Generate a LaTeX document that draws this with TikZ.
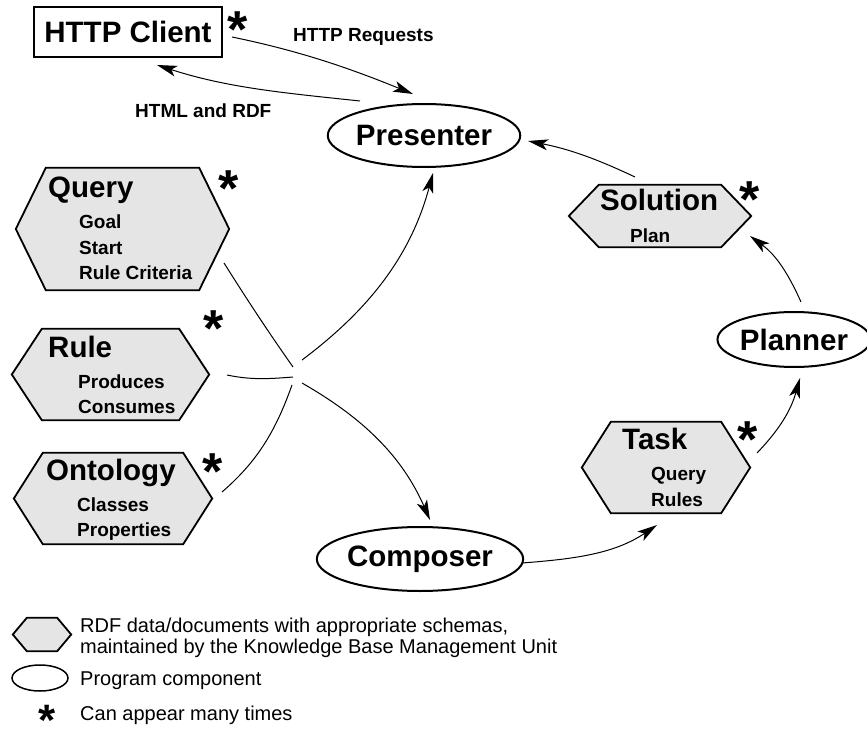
\documentclass[tikz,border=0pt]{standalone}
\usepackage{fontspec}
\setmainfont{Liberation Sans}
\usetikzlibrary{arrows.meta,shapes.geometric}

\definecolor{hexgray}{HTML}{E5E5E5}

% hexagon outline around a (rectangular, invisible) node; #2 = depth of the side points
\newcommand\hexoutline[2]{%
  \draw[hexline] ([xshift=#2]#1.north west) -- ([xshift=-#2]#1.north east) -- (#1.east)
    -- ([xshift=-#2]#1.south east) -- ([xshift=#2]#1.south west) -- (#1.west) -- cycle;}

\begin{document}
\begin{tikzpicture}[x=1pt,y=-1pt,
  big/.style={font=\fontsize{29.5}{34}\selectfont\bfseries},
  small/.style={font=\fontsize{19}{22}\selectfont\bfseries},
  txt/.style={anchor=base west, inner sep=0},
  legendtxt/.style={txt, font=\fontsize{20}{24}\selectfont},
  comp/.style={ellipse, draw, line width=2pt, inner sep=0, big},
  hexbox/.style={rectangle, draw=none, inner sep=0},
  hexline/.style={line width=1.8pt, fill=hexgray, line join=miter},
  conn/.style={line width=1pt},
  arr/.style={conn, -{Stealth[length=20pt,width=11pt,inset=5pt]}},
  star/.style={font=\fontsize{52}{52}\selectfont\bfseries, inner sep=0, anchor=north, text depth=0pt},
]
\path[use as bounding box, fill=white] (0,0) rectangle (867,738);

% ---------- client ----------
\node[draw, line width=2pt, minimum width=188, minimum height=50, inner sep=0, big]
  (client) at (128,32) {HTTP Client};
\node[star] (clientstar) at (238,12) {*};

% ---------- program components ----------
\node[comp, minimum width=192, minimum height=63] (presenter) at (424,135.5) {Presenter};
\node[comp, minimum width=192, minimum height=64] (composer) at (420,559) {Composer};
\node[comp, minimum width=150, minimum height=55] (planner) at (794,339.5) {Planner};

% ---------- RDF documents ----------
\node[hexbox, minimum width=213, minimum height=122] (query) at (122.5,229) {};
\hexoutline{query}{30}
\node[txt, big]   (queryT) at (48,198) {Query};
\node[txt, small] (goal)   at (79,229) {Goal};
\node[txt, small] (start)  at (79,254) {Start};
\node[txt, small] (crit)   at (79,279) {Rule Criteria};
\node[star] (querystar) at (229,171) {*};

\node[hexbox, minimum width=197, minimum height=91] (rule) at (110.5,374.5) {};
\hexoutline{rule}{30}
\node[txt, big]   (ruleT) at (48,357) {Rule};
\node[txt, small] (prod)  at (78,388) {Produces};
\node[txt, small] (cons)  at (78,413) {Consumes};
\node[star] (rulestar) at (214,311) {*};

\node[hexbox, minimum width=198, minimum height=91] (onto) at (113,498.5) {};
\hexoutline{onto}{29}
\node[txt, big]   (ontoT) at (46,480) {Ontology};
\node[txt, small] (cls)   at (77,511) {Classes};
\node[txt, small] (props) at (77,536) {Properties};
\node[star] (ontostar) at (213,454) {*};

\node[hexbox, minimum width=182, minimum height=62] (solution) at (660,216) {};
\hexoutline{solution}{30}
\node[txt, big]   (solT) at (600,211) {Solution};
\node[txt, small] (plan) at (630,242) {Plan};
\node[star] (solstar) at (750,182) {*};

\node[hexbox, minimum width=168, minimum height=91] (task) at (666,467.5) {};
\hexoutline{task}{29}
\node[txt, big]   (taskT) at (622,449) {Task};
\node[txt, small] (tq)    at (651,480) {Query};
\node[txt, small] (tr)    at (651,506) {Rules};
\node[star] (taskstar) at (748,422) {*};

% ---------- connector labels ----------
\node[txt, small] (reqlbl)  at (293,42)  {HTTP Requests};
\node[txt, small] (htmllbl) at (135,118) {HTML and RDF};

% ---------- connector end points ----------
\coordinate (reqA) at (232,37);   \coordinate (reqB) at (413,94);
\coordinate (resA) at (360,101);  \coordinate (resB) at (157,65);
\coordinate (solA) at (635,177);  \coordinate (solB) at (528,141);
\coordinate (plnA) at (801,302);  \coordinate (plnB) at (750,236);
\coordinate (tskA) at (757,453);  \coordinate (tskB) at (800,378);
\coordinate (cmpA) at (522,563);  \coordinate (cmpB) at (657,525);
\coordinate (qEnd) at (224,263);  \coordinate (qJ) at (293,367);
\coordinate (rEnd) at (227,375);  \coordinate (rJ) at (293,377);
\coordinate (oEnd) at (222,492);  \coordinate (oJ) at (292,385);
\coordinate (jUp) at (302,360);   \coordinate (pIn) at (433,173);
\coordinate (jDn) at (302,383);   \coordinate (cIn) at (430,520);

% ---------- connectors ----------
\draw[arr] (reqA) .. controls +(68,14) and +(-64,-26) .. (reqB);
\draw[arr] (resA) .. controls +(-75,-8) and +(71,23) .. (resB);
\draw[arr] (solA) .. controls +(-38,-18) and +(41,8) .. (solB);
\draw[arr] (plnA) .. controls +(-13,-29) and +(26,19) .. (plnB);
\draw[arr] (tskA) .. controls +(23,-24) and +(-9,32) .. (tskB);
\draw[arr] (cmpA) .. controls +(52,-4) and +(-43,29) .. (cmpB);

\draw[conn] (qEnd) .. controls +(24,38) and +(-26,-37) .. (qJ);
\draw[conn] (rEnd) .. controls +(24,5) and +(-25,2) .. (rJ);
\draw[conn] (oEnd) .. controls +(36,-31) and +(-16,45) .. (oJ);
\draw[arr] (jUp) .. controls +(68,-51) and +(-22,82) .. (pIn);
\draw[arr] (jDn) .. controls +(61,35) and +(-28,-64) .. (cIn);

% ---------- legend ----------
\node[hexbox, minimum width=58, minimum height=33] (lhex) at (42,634.5) {};
\hexoutline{lhex}{14}
\node[legendtxt] (l1) at (80,632) {RDF data/documents with appropriate schemas,};
\node[legendtxt] (l2) at (80,653) {maintained by the Knowledge Base Management Unit};
\node[ellipse, draw, line width=1.5pt, minimum width=56, minimum height=26, inner sep=0] (lell) at (40,678) {};
\node[legendtxt] (l3) at (80,685) {Program component};
\node[star, font=\fontsize{44}{44}\selectfont\bfseries] (lstar) at (47,705) {*};
\node[legendtxt] (l4) at (80,720) {Can appear many times};
\end{tikzpicture}
\end{document}
